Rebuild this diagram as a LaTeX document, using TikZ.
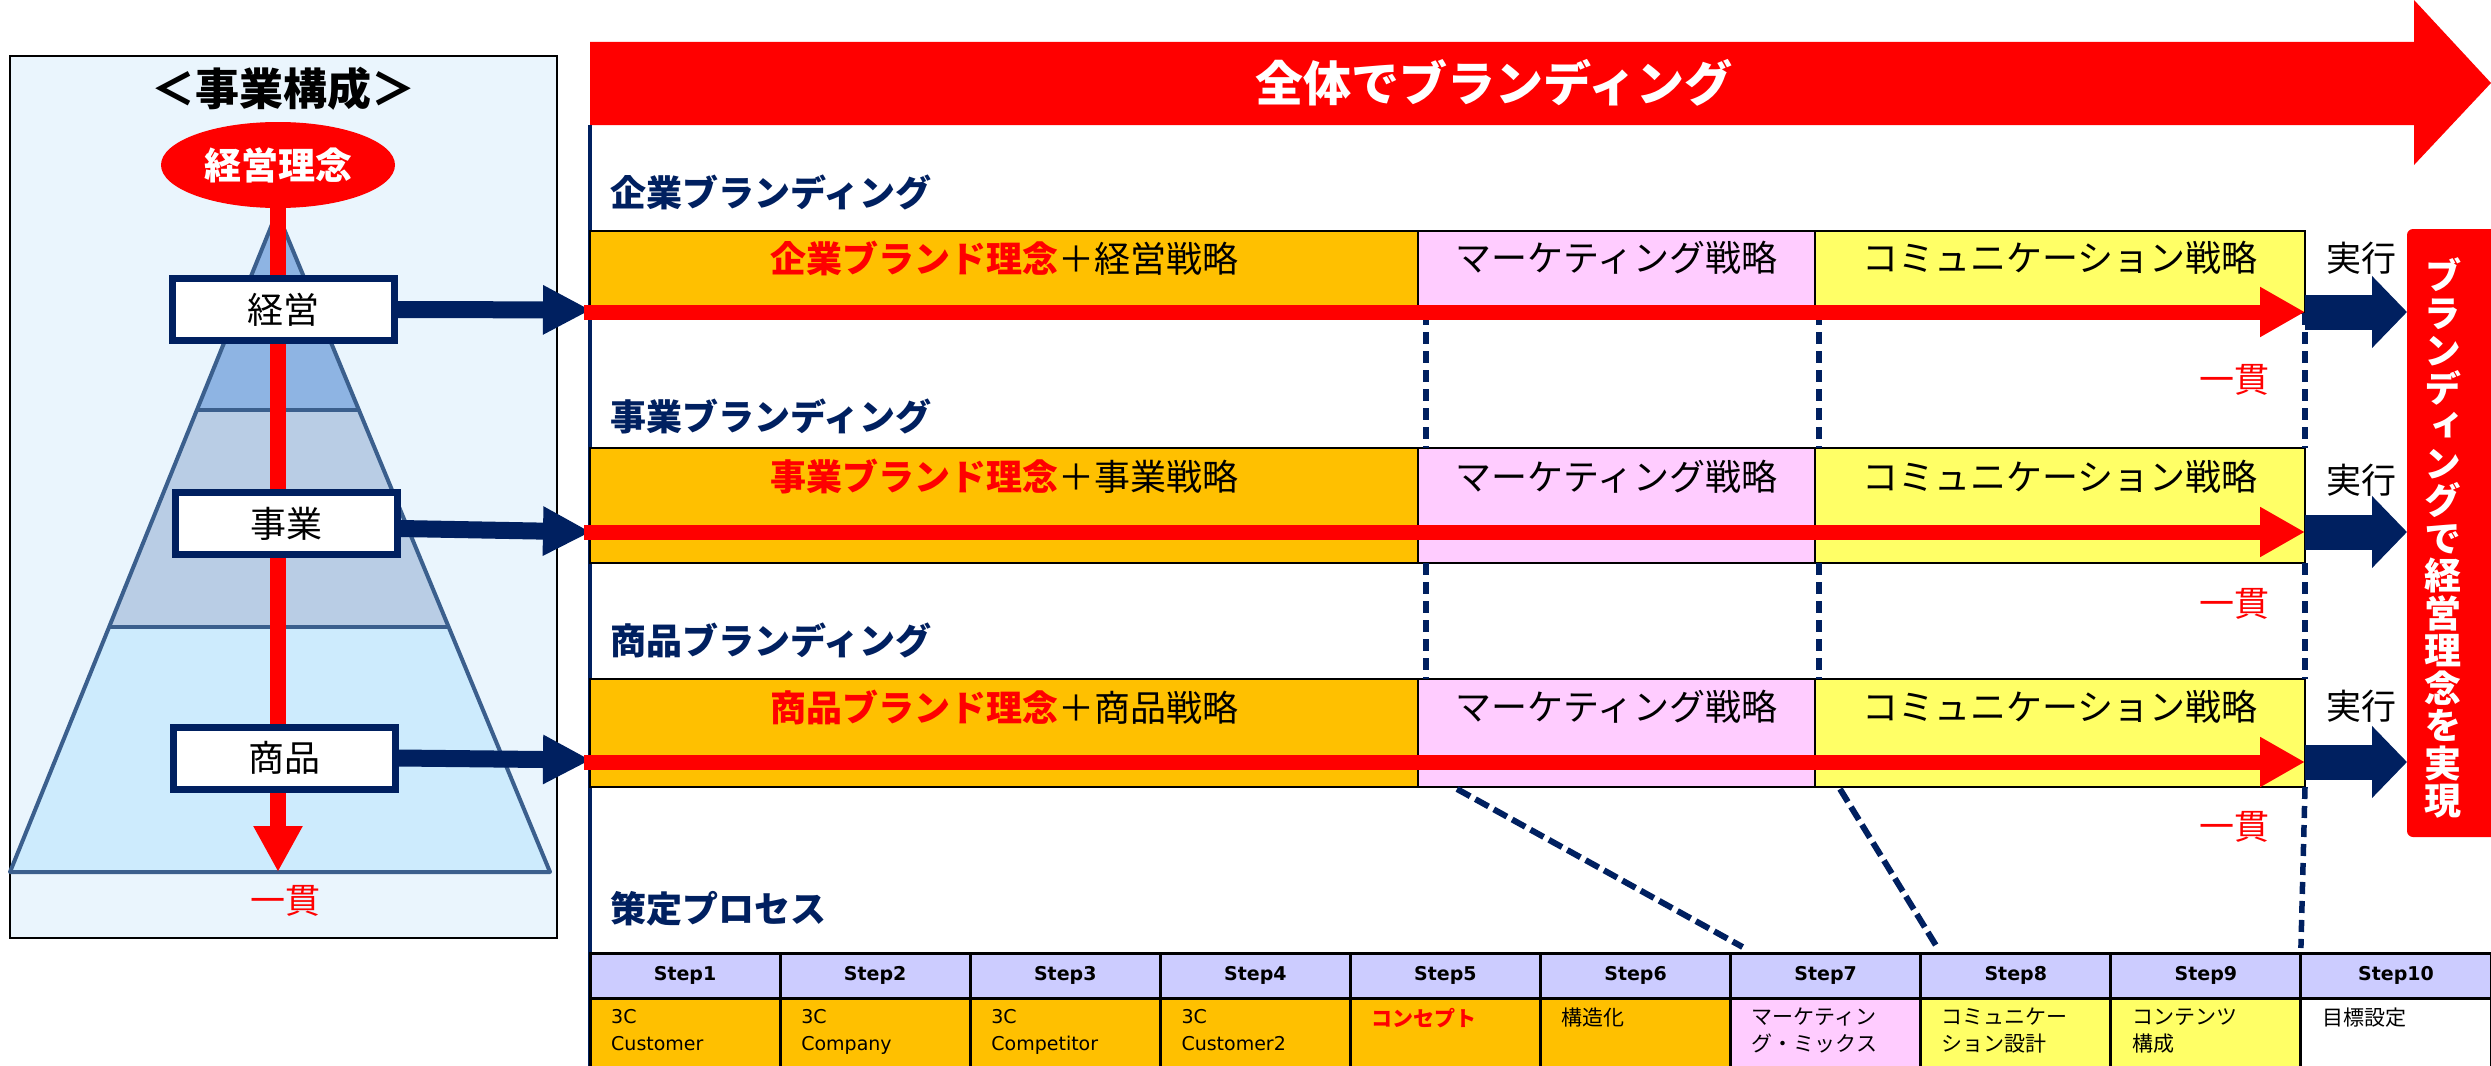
\documentclass[tikz,border=0pt]{standalone}
\usepackage{fontspec}
\setmainfont{Noto Sans CJK JP}
\newfontfamily\vjp[RawFeature=+vert]{Noto Sans CJK JP}
\newfontfamily\latf{DejaVu Sans}
\usetikzlibrary{shapes.geometric,arrows.meta,calc}
\definecolor{navy}{HTML}{002060}
\definecolor{orng}{HTML}{FFC000}
\definecolor{pnk}{HTML}{FFCCFF}
\definecolor{ylw}{HTML}{FFFF66}
\definecolor{lav}{HTML}{CCCCFF}
\definecolor{panelbg}{HTML}{EAF5FD}
\definecolor{pyrline}{HTML}{3B5F8D}
\definecolor{pyrA}{HTML}{8EB4E3}
\definecolor{pyrB}{HTML}{B9CDE5}
\definecolor{pyrC}{HTML}{CDEBFD}
\tikzset{
  lvlbox/.style={draw=navy, line width=7pt, fill=white, minimum width=222pt, minimum height=62pt, inner sep=0pt, font=\fontsize{36}{40}\selectfont},
  navyarrow/.style={draw=navy, line width=17pt, -{Triangle[length=48pt,width=46pt]}},
  redarrow/.style={draw=red, line width=15pt, -{Triangle[length=45pt,width=47pt]}},
  execarrow/.style={draw=navy, line width=35pt, -{Triangle[length=35pt,width=70pt]}},
  cell/.style={draw=black, line width=2.5pt, inner sep=0pt, outer sep=0pt, anchor=north west},
  rowtxt/.style={font=\fontsize{36}{40}\selectfont, inner sep=0pt},
  heading/.style={font=\bfseries\fontsize{36}{40}\selectfont, text=navy, anchor=west, inner sep=0pt},
  kantxt/.style={font=\fontsize{35}{40}\selectfont, text=red, inner sep=0pt},
  exectxt/.style={font=\fontsize{35}{40}\selectfont, inner sep=0pt},
  vdash/.style={draw=navy, line width=5.5pt, dash pattern=on 12pt off 7pt},
  sdash/.style={draw=navy, line width=6pt, dash pattern=on 15pt off 6pt},
  thead/.style={draw=black, line width=3pt, fill=lav, minimum width=190.1pt, minimum height=45pt, inner sep=0pt, outer sep=0pt, anchor=north west, font=\latf\bfseries\fontsize{19}{22}\selectfont},
  tbody/.style={draw=black, line width=3pt, minimum width=190.1pt, minimum height=90pt, inner sep=0pt, outer sep=0pt, anchor=north west},
  btxtL/.style={anchor=north west, inner sep=0pt, align=left, font=\latf\fontsize{19}{27}\selectfont},
  btxtJ/.style={anchor=north west, inner sep=0pt, align=left, font=\fontsize{21}{27}\selectfont},
}
\begin{document}
\begin{tikzpicture}[x=1pt,y=-1pt]
\useasboundingbox (0,0) rectangle (2491,1065);
\fill[white] (0,0) rectangle (2491,1065);

% ---------- left panel ----------
\draw[black, line width=2.5pt, fill=panelbg] (10,56) rectangle (557,938);
\fill[pyrC] (109.1,627) -- (448.7,627) -- (550,872) -- (10,872) -- cycle;
\fill[pyrB] (196.9,410) -- (358.9,410) -- (448.7,627) -- (109.1,627) -- cycle;
\fill[pyrA] (277,212) -- (358.9,410) -- (196.9,410) -- cycle;
\draw[pyrline, line width=4pt, line join=round] (277,212) -- (550,872) -- (10,872) -- cycle;
\draw[pyrline, line width=4pt] (196.9,410) -- (358.9,410) (109.1,627) -- (448.7,627);

\node[font=\bfseries\fontsize{44}{48}\selectfont, inner sep=0pt] (ttl) at (283,89) {＜事業構成＞};
\node[ellipse, fill=red, minimum width=234pt, minimum height=86pt, inner sep=0pt, outer sep=0pt, text=white, font=\bfseries\fontsize{37}{40}\selectfont] (rinen) at (278,165) {経営理念};
\coordinate (pyrbase) at (278,872);
\draw[red, line width=16pt, -{Triangle[length=46pt,width=46pt]}] (rinen.south) -- (pyrbase);

\node[lvlbox] (keiei) at (283.5,309.5) {経営};
\node[lvlbox] (jigyo) at (286,523.5) {事業};
\node[lvlbox] (shohin) at (284,758) {商品};
\coordinate (t1) at (591,310);
\coordinate (t2) at (591,532);
\coordinate (t3) at (591,760);
\draw[navyarrow] (keiei.east) -- (t1);
\draw[navyarrow] ([yshift=-5pt]jigyo.east) -- (t2);
\draw[navyarrow] (shohin.east) -- (t3);
\node[kantxt] (ik0) at (285,901) {一貫};

% ---------- top arrow ----------
\fill[red] (590,42) -- (2414,42) -- (2414,0) -- (2491,83) -- (2414,165) -- (2414,125) -- (590,125) -- cycle;
\node[text=white, font=\bfseries\fontsize{48}{52}\selectfont, inner sep=0pt] (whole) at (1494,83) {全体でブランディング};

% ---------- vertical line ----------
\coordinate (vtop) at (590,125);
\coordinate (vbot) at (590,1070);
\draw[navy, line width=3.5pt] (vtop) -- (vbot);

% ---------- headings ----------
\node[heading] (hd1) at (610,192) {企業ブランディング};
\node[heading] (hd2) at (610,416) {事業ブランディング};
\node[heading] (hd3) at (610,640) {商品ブランディング};
\node[heading] (hd4) at (610,909) {策定プロセス};

% ---------- rows ----------
\node[cell, fill=orng, minimum width=828pt, minimum height=82pt] (r1a) at (590,231) {};
\node[cell, fill=pnk, minimum width=397pt, minimum height=82pt] (r1b) at (1418,231) {};
\node[cell, fill=ylw, minimum width=490pt, minimum height=82pt] (r1c) at (1815,231) {};
\node[cell, fill=orng, minimum width=828pt, minimum height=115pt] (r2a) at (590,448) {};
\node[cell, fill=pnk, minimum width=397pt, minimum height=115pt] (r2b) at (1418,448) {};
\node[cell, fill=ylw, minimum width=490pt, minimum height=115pt] (r2c) at (1815,448) {};
\node[cell, fill=orng, minimum width=828pt, minimum height=108pt] (r3a) at (590,679) {};
\node[cell, fill=pnk, minimum width=397pt, minimum height=108pt] (r3b) at (1418,679) {};
\node[cell, fill=ylw, minimum width=490pt, minimum height=108pt] (r3c) at (1815,679) {};

\node[rowtxt] (x1a) at ([yshift=-27pt]r1a.north) {\textcolor{red}{\bfseries 企業ブランド理念}＋経営戦略};
\node[rowtxt] (x1b) at ([yshift=-27pt]r1b.north) {マーケティング戦略};
\node[rowtxt] (x1c) at ([yshift=-27pt]r1c.north) {コミュニケーション戦略};
\node[rowtxt] (x2a) at ([yshift=-29pt]r2a.north) {\textcolor{red}{\bfseries 事業ブランド理念}＋事業戦略};
\node[rowtxt] (x2b) at ([yshift=-29pt]r2b.north) {マーケティング戦略};
\node[rowtxt] (x2c) at ([yshift=-29pt]r2c.north) {コミュニケーション戦略};
\node[rowtxt] (x3a) at ([yshift=-28pt]r3a.north) {\textcolor{red}{\bfseries 商品ブランド理念}＋商品戦略};
\node[rowtxt] (x3b) at ([yshift=-28pt]r3b.north) {マーケティング戦略};
\node[rowtxt] (x3c) at ([yshift=-28pt]r3c.north) {コミュニケーション戦略};

% ---------- table ----------
\foreach \i in {1,...,10} {
  \node[thead] (h\i) at ({590+(\i-1)*190.1},953) {Step\i};
}
\node[tbody, fill=orng] (b1) at (h1.south west) {};
\node[tbody, fill=orng] (b2) at (h2.south west) {};
\node[tbody, fill=orng] (b3) at (h3.south west) {};
\node[tbody, fill=orng] (b4) at (h4.south west) {};
\node[tbody, fill=orng] (b5) at (h5.south west) {};
\node[tbody, fill=orng] (b6) at (h6.south west) {};
\node[tbody, fill=pnk] (b7) at (h7.south west) {};
\node[tbody, fill=ylw] (b8) at (h8.south west) {};
\node[tbody, fill=ylw] (b9) at (h9.south west) {};
\node[tbody, fill=white] (b10) at (h10.south west) {};
\node[btxtL] (c1) at ([xshift=21pt,yshift=-11pt]b1.north west) {3C\\Customer};
\node[btxtL] (c2) at ([xshift=21pt,yshift=-11pt]b2.north west) {3C\\Company};
\node[btxtL] (c3) at ([xshift=21pt,yshift=-11pt]b3.north west) {3C\\Competitor};
\node[btxtL] (c4) at ([xshift=21pt,yshift=-11pt]b4.north west) {3C\\Customer2};
\node[btxtJ, text=red, font=\bfseries\fontsize{21}{27}\selectfont] (c5) at ([xshift=21pt,yshift=-10pt]b5.north west) {コンセプト};
\node[btxtJ] (c6) at ([xshift=21pt,yshift=-10pt]b6.north west) {構造化};
\node[btxtJ] (c7) at ([xshift=21pt,yshift=-10pt]b7.north west) {マーケティン\\グ・ミックス};
\node[btxtJ] (c8) at ([xshift=21pt,yshift=-10pt]b8.north west) {コミュニケー\\ション設計};
\node[btxtJ] (c9) at ([xshift=21pt,yshift=-10pt]b9.north west) {コンテンツ\\構成};
\node[btxtJ] (c10) at ([xshift=21pt,yshift=-10pt]b10.north west) {目標設定};

% ---------- dashed lines ----------
\draw[vdash] ([xshift=8pt]r1b.south west) -- ([xshift=8pt]r2b.north west);
\draw[vdash] ([xshift=8pt]r2b.south west) -- ([xshift=8pt]r3b.north west);
\draw[vdash] ([xshift=4pt]r1c.south west) -- ([xshift=4pt]r2c.north west);
\draw[vdash] ([xshift=4pt]r2c.south west) -- ([xshift=4pt]r3c.north west);
\draw[vdash] (r1c.south east) -- (r2c.north east);
\draw[vdash] (r2c.south east) -- (r3c.north east);
\draw[vdash] (r3c.south east) -- ([yshift=5pt]h10.north west);
\draw[sdash] ([xshift=39pt,yshift=-2pt]r3b.south west) -- ([xshift=12pt,yshift=6pt]h7.north west);
\draw[sdash] ([xshift=25pt,yshift=-2pt]r3c.south west) -- ([xshift=15pt,yshift=8pt]h8.north west);

% ---------- vertical red box ----------
\node[fill=red, rounded corners=6pt, minimum width=95pt, minimum height=608pt, anchor=north west, inner sep=0pt, outer sep=0pt] (vbox) at (2407,229) {};
\node[text=white, align=center, inner sep=0pt, font=\vjp\bfseries\fontsize{37}{37.5}\selectfont] (vtxt) at (2443,538) {ブ\\ラ\\ン\\デ\\ィ\\ン\\グ\\で\\経\\営\\理\\念\\を\\実\\現};

% ---------- red and navy arrows ----------
\coordinate (s1) at (584,312);
\coordinate (s2) at (584,532);
\coordinate (s3) at (584,762);
\draw[redarrow] (s1) -- (s1 -| r1c.east);
\draw[redarrow] (s2) -- (s2 -| r2c.east);
\draw[redarrow] (s3) -- (s3 -| r3c.east);
\draw[execarrow] (s1 -| r1c.east) -- (s1 -| vbox.west);
\draw[execarrow] (s2 -| r2c.east) -- (s2 -| vbox.west);
\draw[execarrow] (s3 -| r3c.east) -- (s3 -| vbox.west);
\node[exectxt] (e1) at (2361,258) {実行};
\node[exectxt] (e2) at (2361,480) {実行};
\node[exectxt] (e3) at (2361,706) {実行};

\node[kantxt] (ik1) at (2234,380) {一貫};
\node[kantxt] (ik2) at (2234,604) {一貫};
\node[kantxt] (ik3) at (2234,827) {一貫};
\end{tikzpicture}
\end{document}
